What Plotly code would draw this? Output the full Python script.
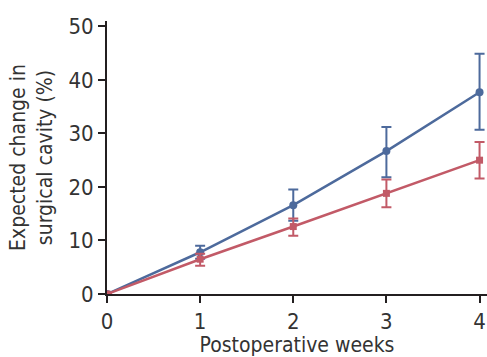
import plotly.graph_objects as go

weeks = [0, 1, 2, 3, 4]
blue_mean = [0, 7.8, 16.6, 26.7, 37.7]
blue_upper = [0, 9.0, 19.5, 31.2, 44.9]
blue_lower = [0, 6.6, 13.7, 21.8, 30.7]
red_mean = [0, 6.5, 12.6, 18.8, 25.0]
red_upper = [0, 7.5, 14.1, 21.4, 28.4]
red_lower = [0, 5.3, 10.9, 16.2, 21.6]

x_ticks = [0, 1, 2, 3, 4]
y_ticks = [0, 10, 20, 30, 40, 50]

BLUE = "#4d6a9c"
RED = "#c25a67"
FONT = "Liberation Sans Narrow, DejaVu Sans Condensed, sans-serif"

def err(mean, up, lo):
    return dict(type="data", symmetric=False,
                array=[u - m for u, m in zip(up, mean)],
                arrayminus=[m - l for m, l in zip(mean, lo)])

fig = go.Figure()
fig.add_trace(go.Scatter(
    x=weeks, y=blue_mean, mode="lines+markers",
    line=dict(color=BLUE, width=2.5),
    marker=dict(symbol="circle", size=8, color=BLUE),
    error_y=dict(**err(blue_mean, blue_upper, blue_lower), color=BLUE, thickness=2, width=5),
    showlegend=False))
fig.add_trace(go.Scatter(
    x=weeks, y=red_mean, mode="lines+markers",
    line=dict(color=RED, width=2.5),
    marker=dict(symbol="square", size=7, color=RED),
    error_y=dict(**err(red_mean, red_upper, red_lower), color=RED, thickness=2, width=5),
    showlegend=False))

fig.update_layout(
    width=487, height=357,
    margin=dict(l=107, r=0, t=21, b=63),
    paper_bgcolor="white", plot_bgcolor="white",
    font=dict(family=FONT, size=22, color="#333333"),
    xaxis=dict(range=[0, 4.08], tickvals=x_ticks, showgrid=False, zeroline=False,
               showline=True, linecolor="#231f20", linewidth=2,
               ticks="outside", ticklen=7, tickwidth=2, tickcolor="#231f20",
               title=dict(text="Postoperative weeks", font=dict(size=21), standoff=6)),
    yaxis=dict(range=[0, 51], tickvals=y_ticks, showgrid=False, zeroline=False,
               showline=True, linecolor="#231f20", linewidth=2,
               ticks="outside", ticklen=7, tickwidth=2, tickcolor="#231f20",
               title=dict(text="Expected change in<br>surgical cavity (%)", font=dict(size=21), standoff=10)),
)

fig.write_html("out.html", config={"displayModeBar": False},
               post_script="document.body.style.margin='0';document.body.style.overflow='hidden';")
